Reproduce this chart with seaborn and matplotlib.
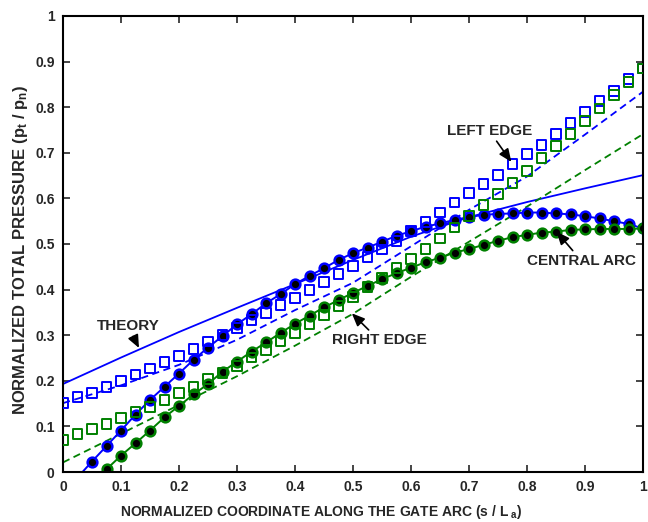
import numpy as np
import pandas as pd
import matplotlib
matplotlib.use("Agg")
import matplotlib.pyplot as plt
import seaborn as sns

# ---------------- data ----------------
x_sq = [0.0, 0.025, 0.05, 0.075, 0.1, 0.125, 0.15, 0.175, 0.2, 0.225, 0.25, 0.275, 0.3, 0.325,
        0.35, 0.375, 0.4, 0.425, 0.45, 0.475, 0.5, 0.525, 0.55, 0.575, 0.6, 0.625, 0.65, 0.675,
        0.7, 0.725, 0.75, 0.775, 0.8, 0.825, 0.85, 0.875, 0.9, 0.925, 0.95, 0.975, 1.0]
left_edge_meas = [0.151, 0.164, 0.174, 0.187, 0.200, 0.214, 0.227, 0.241, 0.255, 0.270, 0.286,
                  0.300, 0.315, 0.333, 0.349, 0.366, 0.382, 0.400, 0.417, 0.434, 0.452, 0.471,
                  0.488, 0.507, 0.528, 0.549, 0.569, 0.591, 0.611, 0.631, 0.651, 0.675, 0.697,
                  0.717, 0.741, 0.765, 0.789, 0.814, 0.836, 0.861, 0.885]
right_edge_meas = [0.070, 0.083, 0.094, 0.105, 0.118, 0.131, 0.143, 0.158, 0.173, 0.187, 0.204,
                   0.218, 0.233, 0.251, 0.268, 0.287, 0.305, 0.325, 0.344, 0.364, 0.384, 0.405,
                   0.425, 0.447, 0.467, 0.489, 0.512, 0.536, 0.561, 0.586, 0.610, 0.634, 0.660,
                   0.688, 0.715, 0.742, 0.770, 0.797, 0.827, 0.856, 0.885]

x_blue_c = [0.025, 0.05, 0.075, 0.1, 0.125, 0.15, 0.175, 0.2, 0.225, 0.25, 0.275, 0.3, 0.325,
            0.35, 0.375, 0.4, 0.425, 0.45, 0.475, 0.5, 0.525, 0.55, 0.575, 0.6, 0.625, 0.65,
            0.675, 0.7, 0.725, 0.75, 0.775, 0.8, 0.825, 0.85, 0.875, 0.9, 0.925, 0.95, 0.975, 1.0]
central_blue = [-0.012, 0.023, 0.057, 0.091, 0.126, 0.158, 0.187, 0.216, 0.246, 0.273, 0.298,
                0.324, 0.346, 0.370, 0.390, 0.412, 0.430, 0.447, 0.465, 0.480, 0.492, 0.505,
                0.518, 0.528, 0.538, 0.545, 0.553, 0.559, 0.564, 0.566, 0.567, 0.569, 0.569,
                0.567, 0.565, 0.561, 0.556, 0.550, 0.544, 0.534]

x_green_c = [0.075, 0.1, 0.125, 0.15, 0.175, 0.2, 0.225, 0.25, 0.275, 0.3, 0.325, 0.35, 0.375,
             0.4, 0.425, 0.45, 0.475, 0.5, 0.525, 0.55, 0.575, 0.6, 0.625, 0.65, 0.675, 0.7,
             0.725, 0.75, 0.775, 0.8, 0.825, 0.85, 0.875, 0.9, 0.925, 0.95, 0.975, 1.0]
central_green = [0.006, 0.036, 0.063, 0.091, 0.120, 0.145, 0.170, 0.193, 0.220, 0.242, 0.264,
                 0.284, 0.305, 0.325, 0.343, 0.361, 0.377, 0.393, 0.408, 0.423, 0.436, 0.448,
                 0.460, 0.470, 0.481, 0.489, 0.498, 0.507, 0.515, 0.520, 0.525, 0.527, 0.531,
                 0.532, 0.533, 0.533, 0.533, 0.534]

x_calc = [0.0, 0.1, 0.2, 0.3, 0.4, 0.5, 0.6, 0.7, 0.8, 0.9, 1.0]
theory = [0.193, 0.251, 0.307, 0.360, 0.412, 0.465, 0.516, 0.559, 0.592, 0.622, 0.651]
left_edge_calc = [0.151, 0.190, 0.235, 0.290, 0.355, 0.415, 0.495, 0.575, 0.648, 0.740, 0.834]
right_edge_calc = [0.021, 0.084, 0.147, 0.210, 0.277, 0.347, 0.428, 0.505, 0.582, 0.662, 0.741]

ticks = [0, 0.1, 0.2, 0.3, 0.4, 0.5, 0.6, 0.7, 0.8, 0.9, 1]
tick_labels = ["0", "0.1", "0.2", "0.3", "0.4", "0.5", "0.6", "0.7", "0.8", "0.9", "1"]

# ---------------- style ----------------
sns.set_theme(style="ticks")
plt.rcParams["font.family"] = ["Liberation Sans", "DejaVu Sans"]
plt.rcParams["font.weight"] = "bold"
plt.rcParams["mathtext.fontset"] = "custom"
plt.rcParams["mathtext.rm"] = "Liberation Sans:bold"
plt.rcParams["mathtext.it"] = "Liberation Sans:bold"
plt.rcParams["mathtext.bf"] = "Liberation Sans:bold"
TXT = "#262626"

BLUE = "#0000ff"
GREEN = "#008000"

fig = plt.figure(figsize=(6.48, 5.22), dpi=100)
ax = fig.add_axes([63 / 648, 1 - 472 / 522, 580 / 648, 456 / 522])

df_calc = pd.DataFrame({"x": x_calc, "theory": theory, "le": left_edge_calc, "re": right_edge_calc})
df_sq = pd.DataFrame({"x": x_sq, "le": left_edge_meas, "re": right_edge_meas})
df_bc = pd.DataFrame({"x": x_blue_c, "y": central_blue})
df_gc = pd.DataFrame({"x": x_green_c, "y": central_green})

sns.lineplot(data=df_calc, x="x", y="theory", ax=ax, color=BLUE, lw=1.3, sort=False)
sns.lineplot(data=df_calc, x="x", y="le", ax=ax, color=BLUE, lw=1.3, ls=(0, (4, 2.5)), sort=False)
sns.lineplot(data=df_calc, x="x", y="re", ax=ax, color=GREEN, lw=1.3, ls=(0, (4, 2.5)), sort=False)

sns.lineplot(data=df_bc, x="x", y="y", ax=ax, color=BLUE, lw=1.4, marker="o", markersize=7,
             markerfacecolor="black", markeredgecolor=BLUE, markeredgewidth=1.8, sort=False)
sns.lineplot(data=df_gc, x="x", y="y", ax=ax, color=GREEN, lw=1.4, marker="o", markersize=7,
             markerfacecolor="black", markeredgecolor=GREEN, markeredgewidth=1.8, sort=False)

sns.scatterplot(data=df_sq, x="x", y="le", ax=ax, marker="s", s=50, facecolor="none",
                edgecolor=BLUE, linewidth=1.4, zorder=3)
sns.scatterplot(data=df_sq, x="x", y="re", ax=ax, marker="s", s=50, facecolor="none",
                edgecolor=GREEN, linewidth=1.4, zorder=3)

ax.set_xlim(0, 1)
ax.set_ylim(0, 1)
ax.set_xticks(ticks)
ax.set_xticklabels(tick_labels)
ax.set_yticks(ticks)
ax.set_yticklabels(tick_labels)
ax.tick_params(direction="in", length=5, width=1.2, top=True, right=True, labelsize=10,
               labelcolor=TXT, pad=6)
for lab in ax.get_xticklabels() + ax.get_yticklabels():
    lab.set_fontweight("bold")
for sp in ax.spines.values():
    sp.set_visible(True)
    sp.set_linewidth(1.5)
    sp.set_color("black")

ax.set_xlabel(r"NORMALIZED COORDINATE ALONG THE GATE ARC (s / L$_{\ a}$)", fontsize=10,
              fontweight="bold", color=TXT, labelpad=6)
ax.xaxis.label.set_x(0.445)
ax.set_ylabel(r"NORMALIZED TOTAL PRESSURE (p$_{\mathrm{t}}$ / p$_{\mathrm{n}}$)", fontsize=12,
              fontweight="bold", color=TXT, labelpad=4)
ax.yaxis.label.set_y(0.487)

arrowprops = dict(arrowstyle="-|>,head_length=0.7,head_width=0.3", color="black", lw=1.2,
                  shrinkA=0, shrinkB=0)
FS_ANN = 11
ax.annotate("THEORY", xy=(0.131, 0.272), xytext=(0.112, 0.32), fontsize=FS_ANN, fontweight="bold",
            color=TXT, ha="center", va="center", arrowprops=arrowprops)
ax.annotate("LEFT EDGE", xy=(0.773, 0.68), xytext=(0.735, 0.748), fontsize=FS_ANN,
            fontweight="bold", color=TXT, ha="center", va="center", arrowprops=arrowprops)
ax.annotate("CENTRAL ARC", xy=(0.851, 0.527), xytext=(0.894, 0.463), fontsize=FS_ANN,
            fontweight="bold", color=TXT, ha="center", va="center", arrowprops=arrowprops)
ax.annotate("RIGHT EDGE", xy=(0.498, 0.348), xytext=(0.545, 0.289), fontsize=FS_ANN,
            fontweight="bold", color=TXT, ha="center", va="center", arrowprops=arrowprops)

fig.savefig("out.png", dpi=100)
